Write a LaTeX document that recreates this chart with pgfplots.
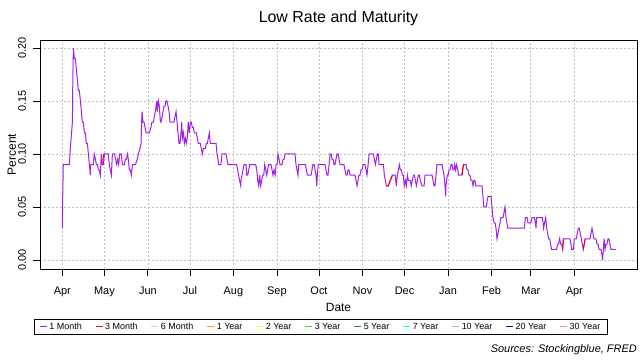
\documentclass[border=0pt]{standalone}
\usepackage{fontspec}
\setmainfont{Liberation Sans}
\usepackage{pgfplots}
\pgfplotsset{compat=1.18}
\definecolor{rpurple}{HTML}{A020F0}
\definecolor{rred}{HTML}{FF0000}
\definecolor{rpink}{HTML}{FFC0CB}
\definecolor{rorange}{HTML}{FFA500}
\definecolor{ryellow}{HTML}{FFFF00}
\definecolor{rgreen}{HTML}{00FF00}
\definecolor{rdkgreen}{HTML}{228B22}
\definecolor{rcyan}{HTML}{00FFFF}
\definecolor{rsky}{HTML}{87CEEB}
\definecolor{rblue}{HTML}{0000FF}
\definecolor{rviolet}{HTML}{EE82EE}
\definecolor{gridgray}{HTML}{BEBEBE}
\pgfplotsset{legend image code/.code={\draw[#1, line width=1bp] (0bp,0bp) -- (7bp,0bp);}}
\begin{document}
\begin{tikzpicture}
\useasboundingbox (0,0) rectangle (640bp,360bp);
\begin{axis}[
  at={(40bp,91bp)}, anchor=south west,
  width=597bp, height=229bp, scale only axis,
  xmin=-15.9, xmax=409.7, ymin=-0.0085, ymax=0.2075,
  axis line style={black, line width=0.8bp},
  tick pos=left, tick align=outside, major tick length=7bp,
  tick style={black, line width=0.8bp},
  xtick={0,30,61,91,122,153,183,214,244,275,306,334,365},
  xticklabels={Apr,May,Jun,Jul,Aug,Sep,Oct,Nov,Dec,Jan,Feb,Mar,Apr},
  ytick={0,0.05,0.1,0.15,0.2},
  scaled y ticks=false,
  yticklabel style={/pgf/number format/fixed, /pgf/number format/fixed zerofill, /pgf/number format/precision=2, rotate=90, anchor=south},
  yticklabel shift=3.5bp,
  xticklabel shift=7bp,
  /pgf/number format/assume math mode=true,
  ticklabel style={font=\fontsize{11}{13}\selectfont},
  grid=major, grid style={gridgray, dash pattern=on 2bp off 2bp, line width=0.7bp},
  xlabel={Date}, ylabel={Percent},
  label style={font=\fontsize{12}{14}\selectfont},
  xlabel style={at={(axis description cs:0.5,-0.168)}, anchor=center},
  ylabel style={at={(axis description cs:-0.047,0.5)}, anchor=center},
  title={Low Rate and Maturity},
  title style={at={(axis description cs:0.5,1)}, anchor=center, yshift=16bp, font=\fontsize{16}{18}\selectfont},
  legend columns=11,
  legend style={at={(axis description cs:-0.01005,-0.2183)}, anchor=north west,
    draw=black, line width=0.8bp, font=\fontsize{9}{10}\selectfont,
    inner xsep=5bp, inner ysep=1.5bp,
    nodes={inner xsep=2bp, inner ysep=2bp},
    /tikz/every even column/.append style={column sep=11.4bp}},
]
\addplot[rpurple, line width=1bp] coordinates {
(0,0.03) (0.3,0.06) (0.7,0.09) (5.0,0.09) (5.5,0.10) (6.0,0.11) (6.6,0.12) (7.2,0.13) (7.5,0.17) (7.9,0.20)
(8.6,0.19) (9.3,0.19) (10.0,0.18) (10.7,0.17) (11.4,0.16) (12.1,0.16) (12.9,0.15) (13.6,0.14) (14.3,0.13) (15.0,0.13)
(15.7,0.12) (16.4,0.12) (17.1,0.11) (17.9,0.11) (18.6,0.10) (19.3,0.09) (20.0,0.08) (20.3,0.09) (21.4,0.09) (22.1,0.09)
(22.8,0.10) (23.6,0.095) (24.3,0.09) (25.0,0.09) (25.7,0.085) (26.4,0.085) (27.1,0.08) (27.8,0.10) (28.5,0.09) (29.3,0.09)
(30.0,0.10) (32.8,0.10) (33.5,0.09) (34.2,0.085) (35.0,0.08) (35.7,0.10) (37.3,0.10) (38.0,0.095) (38.8,0.09) (39.5,0.095)
(40.2,0.09) (40.9,0.10) (42.1,0.10) (42.8,0.09) (44.2,0.09) (45.0,0.095) (45.7,0.095) (46.4,0.10) (47.1,0.095) (47.8,0.085)
(48.5,0.085) (49.2,0.08) (50.0,0.09) (51.4,0.09) (52.1,0.09) (53.5,0.095) (54.2,0.10) (55.4,0.105) (56.1,0.11) (56.8,0.14)
(57.5,0.13) (58.3,0.13) (59.0,0.125) (59.7,0.12) (60.4,0.12) (61.1,0.12) (62.0,0.12) (63.2,0.125) (63.9,0.13) (64.9,0.13)
(65.6,0.135) (66.3,0.14) (66.8,0.145) (67.3,0.15) (67.7,0.14) (68.5,0.15) (69.2,0.145) (69.9,0.13) (70.4,0.13) (71.1,0.135)
(71.8,0.14) (72.5,0.145) (73.2,0.145) (73.9,0.15) (74.6,0.15) (75.4,0.145) (76.1,0.14) (76.8,0.13) (77.5,0.13) (78.9,0.13)
(79.6,0.13) (80.3,0.135) (81.1,0.14) (81.8,0.13) (82.5,0.12) (83.2,0.11) (83.9,0.11) (84.6,0.12) (85.1,0.13) (85.6,0.115)
(86.3,0.12) (87.0,0.11) (87.7,0.115) (88.4,0.11) (89.1,0.115) (89.8,0.13) (90.6,0.12) (91.3,0.13) (92.0,0.13) (92.7,0.125)
(93.4,0.125) (94.1,0.12) (94.8,0.12) (95.5,0.12) (96.3,0.115) (97.0,0.11) (97.7,0.11) (98.4,0.11) (99.1,0.105) (99.8,0.10)
(100.5,0.105) (101.3,0.105) (102.0,0.105) (102.7,0.11) (103.4,0.11) (104.1,0.115) (104.8,0.12) (105.5,0.11) (106.5,0.11) (109.6,0.11)
(110.3,0.10) (111.0,0.095) (111.5,0.09) (113.1,0.09) (113.9,0.10) (116.7,0.10) (117.4,0.095) (118.1,0.09) (120.7,0.09) (124.3,0.09)
(125.0,0.085) (125.7,0.08) (126.4,0.075) (127.2,0.07) (127.4,0.075) (128.1,0.08) (128.8,0.085) (129.6,0.09) (130.3,0.09) (131.0,0.09)
(131.5,0.08) (132.2,0.08) (132.9,0.085) (133.6,0.09) (137.9,0.09) (138.6,0.085) (139.3,0.075) (140.0,0.07) (140.7,0.08) (141.4,0.07)
(142.1,0.075) (142.9,0.08) (143.6,0.08) (144.3,0.09) (145.0,0.085) (145.7,0.08) (146.4,0.085) (147.1,0.09) (148.1,0.09) (148.8,0.09)
(149.5,0.085) (150.2,0.08) (150.9,0.085) (151.7,0.08) (152.4,0.09) (153.1,0.09) (153.8,0.10) (154.5,0.095) (155.2,0.09) (155.9,0.09)
(156.6,0.09) (157.4,0.095) (158.1,0.095) (158.8,0.10) (159.5,0.10) (165.9,0.10) (166.6,0.09) (167.3,0.085) (168.0,0.08) (168.5,0.09)
(173.3,0.09) (174.0,0.085) (174.7,0.08) (177.3,0.08) (178.0,0.085) (178.7,0.09) (179.5,0.09) (180.2,0.085) (180.9,0.08) (181.4,0.07)
(181.8,0.08) (182.5,0.09) (183.3,0.09) (186.6,0.09) (187.3,0.09) (188.0,0.085) (188.7,0.08) (189.4,0.08) (190.2,0.09) (190.9,0.10)
(191.6,0.10) (192.3,0.095) (193.0,0.095) (193.7,0.09) (194.4,0.09) (195.1,0.095) (195.8,0.10) (196.6,0.10) (197.3,0.095) (198.0,0.09)
(200.8,0.09) (201.5,0.085) (202.3,0.08) (203.0,0.08) (203.7,0.085) (204.4,0.085) (205.1,0.08) (208.7,0.08) (209.4,0.075) (210.1,0.07)
(210.8,0.075) (211.5,0.08) (212.2,0.08) (213.0,0.085) (213.7,0.085) (214.4,0.09) (215.1,0.09) (215.8,0.09) (216.5,0.085) (217.2,0.08)
(218.0,0.09) (218.7,0.10) (221.7,0.10) (222.5,0.095) (223.2,0.09) (223.9,0.095) (224.6,0.10) (225.3,0.10) (225.8,0.09) (228.9,0.09)
(229.6,0.08) (230.3,0.075) (231.0,0.07) (232.4,0.07) (233.9,0.075) (235.3,0.08) (236.0,0.08) (237.4,0.08) (238.1,0.07) (238.9,0.08)
(239.6,0.085) (240.3,0.09) (241.0,0.085) (241.7,0.085) (242.4,0.08) (243.1,0.08) (243.8,0.07) (244.6,0.075) (245.3,0.07) (246.0,0.08)
(246.7,0.075) (247.4,0.075) (248.1,0.075) (248.8,0.07) (249.5,0.075) (250.3,0.08) (251.0,0.08) (251.7,0.075) (252.4,0.07) (253.1,0.075)
(253.8,0.08) (254.5,0.08) (255.3,0.075) (256.4,0.07) (257.1,0.07) (257.9,0.07) (258.6,0.08) (263.6,0.08) (264.3,0.075) (265.0,0.07)
(265.7,0.07) (266.4,0.08) (267.1,0.09) (270.7,0.09) (271.4,0.085) (272.1,0.08) (272.8,0.07) (273.3,0.06) (273.5,0.07) (274.0,0.075)
(274.5,0.08) (275.0,0.08) (275.7,0.085) (276.4,0.085) (277.1,0.09) (277.8,0.09) (278.5,0.085) (279.2,0.085) (279.7,0.09) (280.4,0.085)
(281.1,0.09) (281.9,0.085) (282.6,0.08) (284.7,0.08) (285.4,0.085) (286.1,0.09) (287.8,0.09) (288.5,0.085) (289.2,0.085) (289.9,0.08)
(290.6,0.08) (291.4,0.075) (292.1,0.075) (292.8,0.07) (293.5,0.075) (294.2,0.075) (294.7,0.07) (299.2,0.07) (299.9,0.06) (300.4,0.05)
(302.3,0.05) (302.8,0.055) (303.5,0.06) (305.6,0.06) (306.3,0.05) (307.0,0.04) (307.8,0.035) (308.5,0.035) (309.2,0.03) (309.9,0.02)
(310.6,0.025) (311.3,0.03) (312.0,0.035) (312.7,0.04) (313.5,0.04) (314.2,0.04) (314.9,0.045) (315.6,0.05) (316.3,0.04) (317.0,0.035)
(317.5,0.03) (329.4,0.03) (330.1,0.04) (331.3,0.04) (332.0,0.035) (332.7,0.035) (333.4,0.035) (334.1,0.035) (334.8,0.04) (336.5,0.04)
(337.2,0.035) (337.7,0.03) (338.1,0.04) (342.2,0.04) (342.7,0.035) (343.1,0.03) (343.8,0.035) (344.6,0.04) (345.3,0.03) (346.0,0.025)
(346.7,0.02) (347.4,0.02) (348.1,0.015) (348.8,0.01) (351.7,0.01) (352.4,0.01) (353.1,0.015) (353.8,0.015) (354.5,0.02) (355.3,0.015)
(356.0,0.015) (356.7,0.01) (357.2,0.02) (361.9,0.02) (362.6,0.015) (363.1,0.01) (364.3,0.01) (365.0,0.02) (365.7,0.02) (366.4,0.02)
(367.1,0.025) (367.9,0.03) (368.6,0.03) (369.3,0.025) (370.0,0.02) (370.7,0.015) (371.4,0.01) (372.1,0.015) (372.8,0.02) (376.2,0.02)
(376.9,0.025) (377.6,0.03) (378.3,0.025) (379.0,0.02) (380.4,0.02) (381.2,0.015) (381.9,0.015) (382.6,0.01) (383.3,0.01) (384.0,0.01)
(384.7,0.005) (385.2,0.00) (385.7,0.01) (386.2,0.02) (386.9,0.01) (387.6,0.015) (388.3,0.015) (389.0,0.02) (389.7,0.02) (390.4,0.015)
(391.1,0.01) (394.7,0.01)
};
\addlegendentry{1 Month}
\addplot[rred, line width=1bp] coordinates {(29.0,0.09) (29.3,0.10)};
\addlegendentry{3 Month}
\addplot[rred, line width=1bp, forget plot] coordinates {(105.5,0.11) (106.5,0.11)};
\addplot[rred, line width=1bp, forget plot] coordinates {(118.5,0.09) (121.0,0.09)};
\addplot[rred, line width=1bp, forget plot] coordinates {(184.0,0.09) (186.6,0.09)};
\addplot[rred, line width=1bp, forget plot] coordinates {(225.8,0.09) (228.9,0.09)};
\addplot[rred, line width=1bp, forget plot] coordinates {(231.0,0.07) (232.4,0.07) (235.3,0.08)};
\addplot[rred, line width=1bp, forget plot] coordinates {(285.2,0.08) (285.4,0.085) (286.1,0.09)};
\addplot[rred, line width=1bp, forget plot] coordinates {(303.5,0.06) (305.6,0.06)};
\addplot[rred, line width=1bp, forget plot] coordinates {(356.7,0.01) (357.2,0.02)};
\addplot[rred, line width=1bp, forget plot] coordinates {(371.4,0.01) (372.1,0.015) (372.8,0.02)};
\addlegendimage{rpink}\addlegendentry{6 Month}
\addlegendimage{rorange}\addlegendentry{1 Year}
\addlegendimage{ryellow}\addlegendentry{2 Year}
\addlegendimage{rgreen}\addlegendentry{3 Year}
\addlegendimage{rdkgreen}\addlegendentry{5 Year}
\addlegendimage{rcyan}\addlegendentry{7 Year}
\addlegendimage{rsky}\addlegendentry{10 Year}
\addlegendimage{rblue}\addlegendentry{20 Year}
\addlegendimage{rviolet}\addlegendentry{30 Year}
\end{axis}
\node[anchor=east, font=\itshape\fontsize{11}{13}\selectfont, inner sep=0pt] at (637bp,10bp) {Sources: Stockingblue, FRED};
\end{tikzpicture}
\end{document}
